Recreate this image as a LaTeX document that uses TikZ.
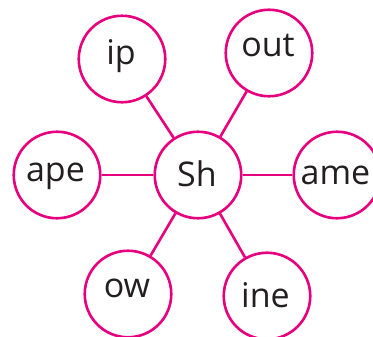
\documentclass[tikz,border=0pt]{standalone}
\usepackage{fontspec}
\setmainfont{Open Sans}
\definecolor{ringpink}{RGB}{230,0,126}
\definecolor{inkgrey}{RGB}{35,31,32}
\begin{document}
\begin{tikzpicture}[x=1pt,y=-1pt,
  ring/.style={circle,draw=ringpink,line width=2.6pt,minimum size=86.5pt,inner sep=0pt},
  link/.style={draw=ringpink,line width=2.6pt},
  word/.style={anchor=base,inner sep=0pt,text=inkgrey,font=\fontsize{34}{40}\selectfont}]
\useasboundingbox (0,0) rectangle (373,337);
\clip (0,0) rectangle (373,337);

% circles
\node[ring] (sh)  at (198,175) {};
\node[ring] (ip)  at (122,59)  {};
\node[ring] (out) at (269,53)  {};
\node[ring] (ape) at (57,175)  {};
\node[ring] (ame) at (337,175) {};
\node[ring] (ow)  at (128,294) {};
\node[ring] (ine) at (267,296) {};

% spokes
\foreach \n in {ip,out,ape,ame,ow,ine}
  \path[link] (sh) -- (\n);

% words
\node[word] (tsh)  at (197,187)   {Sh};
\node[word] (tip)  at (121,65)    {ip};
\node[word] (tout) at (268,57)    {out};
\node[word] (tape) at (55.5,182)  {ape};
\node[word] (tame) at (335.5,185) {ame};
\node[word] (tow)  at (127,298)   {ow};
\node[word] (tine) at (265.5,307) {ine};
\end{tikzpicture}
\end{document}
